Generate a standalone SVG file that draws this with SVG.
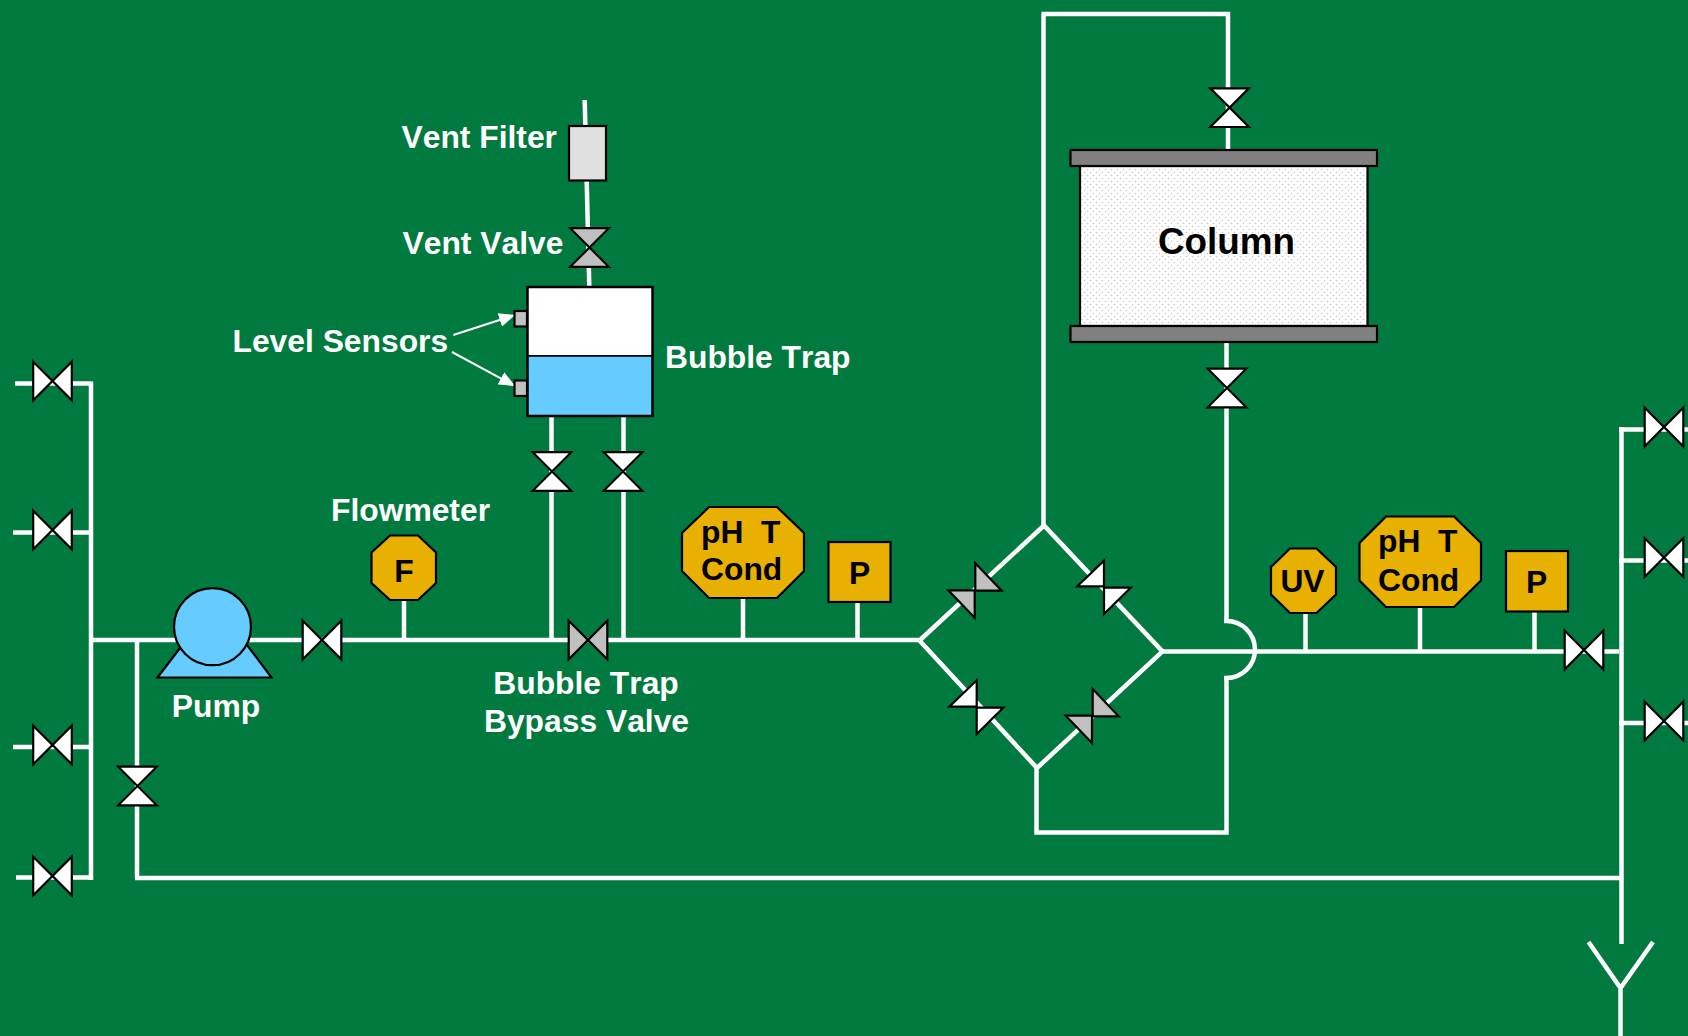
<svg xmlns="http://www.w3.org/2000/svg" width="1688" height="1036" viewBox="0 0 1688 1036">
<style>
.pipe{fill:none;stroke:#fff;stroke-width:4.5}
.lead{fill:none;stroke:#fff;stroke-width:2;marker-end:url(#ah)}
.ol{stroke:#000;stroke-width:2.2;stroke-linejoin:miter;stroke-miterlimit:3}
.w{fill:#fff}.g{fill:#c0c0c0}.o{fill:#e8b000}.b{fill:#66ccff}
text{font-family:"Liberation Sans",Arial,sans-serif;font-weight:700;font-size:31.8px;white-space:pre;font-kerning:none}
.lb{fill:#fff}.ins{fill:#000}
.m{text-anchor:middle}
</style>
<defs>
<path id="vh" class="ol" d="M-19.3-19.3L19.3 19.3V-19.3L-19.3 19.3Z"/>
<path id="vv" class="ol" d="M-19.3-19.3H19.3L-19.3 19.3H19.3Z"/>
<marker id="ah" markerUnits="userSpaceOnUse" markerWidth="18" markerHeight="14" refX="16" refY="7" orient="auto"><path d="M0 0L16 7L0 14Z" fill="#fff"/></marker>
<pattern id="dots" patternUnits="userSpaceOnUse" width="6" height="6"><rect width="6" height="6" fill="#fff"/><circle cx="1.5" cy="1.5" r="0.8" fill="#c8c8c8"/><circle cx="4.5" cy="4.5" r="0.8" fill="#c8c8c8"/></pattern>
</defs>
<rect width="1688" height="1036" fill="#007a3e"/>
<g id="connectors">
<path class="pipe" d="M15 383.5H91M13 532.5H91M13 747H91M16 877.5H91M91 381.5V880M89 640H919M137 638V878M135 878H1621"/>
<path class="pipe" d="M404 600V640M551.5 416V640M623.5 416V640M743 598V640M857.5 602V640"/>
<path class="pipe" d="M584.7 100L589.3 287"/>
<path class="pipe" d="M919.5 640.5L1044 525.5L1162.5 651.5L1037 768L919.5 640.5M1043.5 527V14M1041.5 14H1228V150M1226.5 342V621M1224 621H1226.5A28.5 28.5 0 0 1 1226.5 678H1224M1226.5 678V832.5M1228.7 832.5H1036.5V768"/>
<path class="pipe" d="M1162 651.5H1619M1305.5 613V651.5M1420 607V651.5M1534.5 611V651.5M1621.5 427V944M1619 429.5H1688M1619 560.5H1688M1619 723H1688M1588.5 942L1620.5 988L1653 942M1620.5 988V1036"/>
<path class="lead" d="M453.3 335L515 315"/>
<path class="lead" d="M452 352L515 386"/>
</g>
<g id="inlet-valve-1"><use href="#vh" x="52.5" y="381" class="w"/></g>
<g id="inlet-valve-2"><use href="#vh" x="52.5" y="530" class="w"/></g>
<g id="inlet-valve-3"><use href="#vh" x="52.5" y="745" class="w"/></g>
<g id="inlet-valve-4"><use href="#vh" x="52.5" y="876" class="w"/></g>
<g id="recycle-valve"><use href="#vv" x="137.5" y="786" class="w"/></g>
<g id="pump">
<path class="ol b" d="M180 648L157.5 677.5H271.5L247 645Z"/>
<circle class="ol b" cx="212.5" cy="626.7" r="38.5"/>
<text class="lb m" x="216" y="717">Pump</text>
</g>
<g id="pump-valve"><use href="#vh" x="322" y="640" class="w"/></g>
<g id="flowmeter">
<path class="ol o" d="M390 535.5H418L436 552.5V583L418 600H390L371.5 583V552.5Z"/>
<text class="ins m" x="404" y="581.5">F</text>
<text class="lb" x="331" y="521">Flowmeter</text>
</g>
<g id="vent-filter">
<rect class="ol" x="569" y="126" width="37" height="54.5" fill="#e0e0e0"/>
<text class="lb" x="401.5" y="147.5">Vent Filter</text>
</g>
<g id="vent-valve">
<use href="#vv" x="589.5" y="247.5" class="g"/>
<text class="lb" x="402.5" y="254">Vent Valve</text>
</g>
<g id="bubble-trap">
<rect x="527.5" y="287" width="125" height="69" fill="#fff"/>
<rect x="527.5" y="356" width="125" height="60" fill="#66ccff"/>
<path d="M527.5 355.8H652.5" stroke="#000" stroke-width="1.8"/>
<rect x="527.5" y="287" width="125" height="129" fill="none" stroke="#000" stroke-width="2.5"/>
<text class="lb" x="665" y="368">Bubble Trap</text>
</g>
<g id="level-sensors">
<rect class="ol g" x="514.5" y="311" width="12.5" height="15.5"/>
<rect class="ol g" x="514.5" y="380.5" width="12.5" height="15.5"/>
<text class="lb" x="232.5" y="352">Level Sensors</text>
</g>
<g id="trap-valve-in"><use href="#vv" x="552" y="471.5" class="w"/></g>
<g id="trap-valve-out"><use href="#vv" x="623" y="471.5" class="w"/></g>
<g id="bypass-valve">
<use href="#vh" x="588" y="640" class="g"/>
<text class="lb m" x="586" y="694">Bubble Trap</text>
<text class="lb m" x="586.5" y="732">Bypass Valve</text>
</g>
<g id="ph-t-cond-1">
<path class="ol o" d="M709 507H777L804 533V571L777 598H709L682 571V533Z"/>
<text class="ins" x="701" y="543">pH  T</text>
<text class="ins" x="701" y="580">Cond</text>
</g>
<g id="p-1">
<rect class="ol o" x="828.5" y="542" width="62" height="60"/>
<text class="ins m" x="859.5" y="584">P</text>
</g>
<g id="bridge-valve-tl"><path class="ol g" d="M975.3 563.3L1001.7 590.7H975.3ZM948.3 590.3H974.7V617.7Z"/></g>
<g id="bridge-valve-tr"><path class="ol w" d="M1104 560.7V586.3H1077.3ZM1104 587.7H1130.7L1104 614Z"/></g>
<g id="bridge-valve-bl"><path class="ol w" d="M976.7 680.3V706.7H949.3ZM976.7 707.7H1003.3L976.7 734Z"/></g>
<g id="bridge-valve-br"><path class="ol g" d="M1092.7 689L1118.7 716.3H1092.7ZM1065.7 715.7H1092V743Z"/></g>
<g id="column-valve-top"><use href="#vv" x="1229.6" y="107.7" class="w"/></g>
<g id="column">
<rect class="ol" x="1080" y="166" width="287.5" height="160" fill="url(#dots)"/>
<rect class="ol" x="1070.5" y="150" width="306.5" height="16" fill="#808080"/>
<rect class="ol" x="1070.5" y="326" width="306.5" height="16" fill="#808080"/>
<text class="ins m" x="1226.5" y="254" style="font-size:36.8px">Column</text>
</g>
<g id="column-valve-bottom"><use href="#vv" x="1227" y="388" class="w"/></g>
<g id="uv">
<path class="ol o" d="M1290 548.5H1316.5L1336 567V594.5L1316.5 613H1290L1271 594.5V567Z"/>
<text class="ins m" x="1302.5" y="591.5">UV</text>
</g>
<g id="ph-t-cond-2">
<path class="ol o" d="M1386 516.5H1454L1481 543V580.5L1454 607H1386L1359.5 580.5V543Z"/>
<text class="ins" x="1378" y="552">pH  T</text>
<text class="ins" x="1378" y="591">Cond</text>
</g>
<g id="p-2">
<rect class="ol o" x="1506" y="551" width="62" height="60.5"/>
<text class="ins m" x="1536.5" y="593">P</text>
</g>
<g id="outlet-valve"><use href="#vh" x="1584" y="650" class="w"/></g>
<g id="fraction-valve-1"><use href="#vh" x="1664" y="427" class="w"/></g>
<g id="fraction-valve-2"><use href="#vh" x="1664" y="557.5" class="w"/></g>
<g id="fraction-valve-3"><use href="#vh" x="1664" y="721" class="w"/></g>
</svg>
